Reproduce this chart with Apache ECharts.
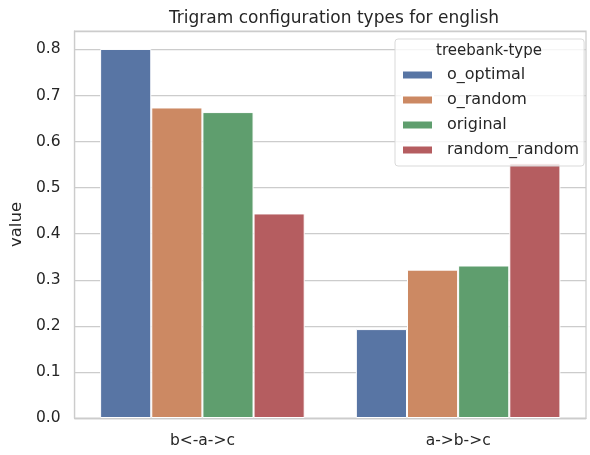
<!DOCTYPE html>
<html>
<head>
<meta charset="utf-8">
<script src="https://cdn.jsdelivr.net/npm/echarts@6/dist/echarts.min.js"></script>
<style>
  html, body { margin: 0; padding: 0; background: #fff; }
  #chart { width: 590px; height: 455px; }
</style>
</head>
<body>
<div id="chart"></div>
<script>
// configuration types on the x axis
const categories = ['b<-a->c', 'a->b->c']
const seriesNames = ['o_optimal', 'o_random', 'original', 'random_random']
// one value per category, per treebank type
const oOptimal = [0.801, 0.193]
const oRandom = [0.674, 0.322]
const original = [0.664, 0.331]
const randomRandom = [0.444, 0.553]
const colors = ['#5875a4', '#cc8963', '#5f9e6e', '#b55d60']

const font = 'DejaVu Sans'
const textColor = '#262626'
const lineColor = '#cccccc'

const chart = echarts.init(document.getElementById('chart'))

const values = [oOptimal, oRandom, original, randomRandom]
const series = seriesNames.map((name, i) => ({
  name,
  type: 'bar',
  data: values[i],
  barGap: '0%',
  barCategoryGap: '20%',
  itemStyle: { color: colors[i], borderColor: '#fff', borderWidth: 1 },
  emphasis: { disabled: true },
}))

chart.setOption({
  animation: false,
  textStyle: { fontFamily: font },
  title: {
    text: 'Trigram configuration types for english',
    left: 329,
    textAlign: 'center',
    top: 5,
    textStyle: { fontFamily: font, fontSize: 17, fontWeight: 'normal', color: textColor },
  },
  grid: {
    left: 71,
    right: 4,
    top: 31,
    bottom: 37,
    show: true,
    borderColor: lineColor,
    borderWidth: 1.25,
  },
  legend: {
    left: 395,
    top: 39,
    orient: 'vertical',
    data: seriesNames,
    icon: 'rect',
    itemWidth: 31,
    itemHeight: 9,
    itemGap: 9,
    padding: [28, 5, 8, 6],
    backgroundColor: 'rgba(255,255,255,0.8)',
    borderColor: '#d9d9d9',
    borderWidth: 1,
    borderRadius: 3,
    textStyle: { fontFamily: font, fontSize: 16, lineHeight: 16, color: textColor, padding: [0, 0, 0, 9] },
  },
  graphic: [
    {
      type: 'text',
      x: 489,
      y: 51,
      z: 100,
      style: {
        text: 'treebank-type',
        font: '15px "DejaVu Sans"',
        fill: textColor,
        textAlign: 'center',
        textVerticalAlign: 'middle',
      },
    },
  ],
  xAxis: {
    type: 'category',
    data: categories,
    axisLine: { show: true, lineStyle: { color: lineColor, width: 1.25 } },
    axisTick: { show: false },
    axisLabel: { fontFamily: font, fontSize: 15.5, color: textColor, margin: 15 },
  },
  yAxis: {
    type: 'value',
    min: 0,
    max: 0.84,
    interval: 0.1,
    name: 'value',
    nameLocation: 'middle',
    nameGap: 47,
    nameTextStyle: { fontFamily: font, fontSize: 16.5, color: textColor },
    axisLine: { show: true, lineStyle: { color: lineColor, width: 1.25 } },
    axisTick: { show: false },
    axisLabel: {
      fontFamily: font,
      fontSize: 15.5,
      color: textColor,
      margin: 14,
      showMaxLabel: false,
      formatter: (v) => v.toFixed(1),
    },
    splitLine: { show: true, lineStyle: { color: lineColor, width: 1.25 } },
  },
  series,
})
</script>
</body>
</html>
